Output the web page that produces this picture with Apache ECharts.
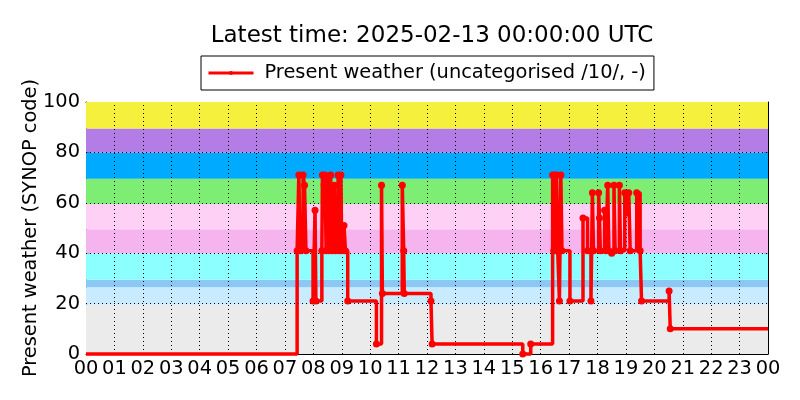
<!DOCTYPE html>
<html>
<head>
<meta charset="utf-8">
<script src="https://cdn.jsdelivr.net/npm/echarts@6/dist/echarts.min.js"></script>
<style>html,body{margin:0;padding:0;background:#fff}#c{width:800px;height:400px}</style>
</head>
<body>
<div id="c"></div>
<script>
// Time in hours since 2025-02-12 00:00 UTC
var times = [0.00, 7.43, 7.49, 7.54, 7.64, 7.69, 7.74, 7.99, 8.06, 8.09, 8.30, 8.32, 8.38, 8.41, 8.45, 8.50, 8.55, 8.61, 8.65, 8.74, 8.78, 8.87, 8.90, 8.97, 9.00, 9.08, 9.13, 9.21,
  10.22, 10.40, 10.43, 11.13, 11.18, 11.20, 12.14, 12.18, 15.37, 15.65,
  16.42, 16.46, 16.50, 16.53, 16.56, 16.60, 16.66, 16.68, 16.71, 16.75, 17.03, 17.49, 17.65, 17.77, 17.82, 17.86,
  18.04, 18.07, 18.10, 18.25, 18.29, 18.36, 18.40, 18.50, 18.58, 18.62, 18.77, 18.81, 18.96, 19.05, 19.10, 19.15, 19.38, 19.50, 19.55,
  20.52, 20.56, 24.00];
var values = [0, 41, 71, 41, 71, 67, 41, 21, 57, 21, 41, 71, 67, 71, 41, 69, 41, 71, 41, 67, 41, 71, 41, 71, 41, 51, 41, 21,
  4, 67, 24, 67, 41, 24, 21, 4, 0, 4,
  71, 41, 71, 41, 71, 41, 21, 41, 71, 41, 21, 54, 41, 21, 64, 41,
  64, 54, 41, 57, 41, 67, 41, 40, 67, 41, 67, 41, 64, 56, 64, 41, 64, 41, 21,
  25, 10, 10];
var hourTicks = ['00','01','02','03','04','05','06','07','08','09','10','11','12','13','14','15','16','17','18','19','20','21','22','23','00'];
var yTicks = [0, 20, 40, 60, 80, 100];
var bandEdges = [0, 19.5, 26.5, 29.5, 40, 49.5, 59.5, 69.5, 80, 89.5, 100];
var bandColors = ['#ebebeb', '#c8ebff', '#8cc8f5', '#8cffff', '#f5b4ee', '#ffd0f5', '#7ded73', '#00aaff', '#b47de6', '#f5f03c'];
var titleText = 'Latest time: 2025-02-13 00:00:00 UTC';
var seriesName = 'Present weather (uncategorised /10/, -)';
var yName = 'Present weather (SYNOP code)';

var pts = times.map(function (t, i) { return [t, values[i]]; });
var areas = [];
for (var i = 0; i < bandColors.length; i++) {
  areas.push([{ yAxis: bandEdges[i], itemStyle: { color: bandColors[i], opacity: 1 } }, { yAxis: bandEdges[i + 1] }]);
}
var gridLines = [];
for (var h = 1; h < hourTicks.length - 1; h++) gridLines.push({ xAxis: h });
for (var k = 1; k < yTicks.length - 1; k++) gridLines.push({ yAxis: yTicks[k] });

var FONT = 'DejaVu Sans';
var FS = 19.4;
var lastIdx = times.length - 1;
var chart = echarts.init(document.getElementById('c'), null, { renderer: 'canvas' });
chart.setOption({
  animation: false,
  backgroundColor: '#fff',
  title: {
    text: titleText, left: 427, top: 20, textAlign: 'center',
    textStyle: { fontFamily: FONT, fontSize: 23, fontWeight: 'normal', color: '#000' }
  },
  legend: {
    left: 201, top: 56,
    padding: [6, 8, 6, 6],
    backgroundColor: '#fff', borderColor: '#000', borderWidth: 1, borderRadius: 0,
    itemWidth: 45, itemHeight: 5,
    lineStyle: { width: 3 },
    textStyle: { fontFamily: FONT, fontSize: FS, color: '#000', padding: [0, 0, 0, 6], lineHeight: 22 },
    data: [seriesName]
  },
  grid: { left: 86, right: 32, top: 102, bottom: 46, show: false },
  xAxis: [{
    type: 'value', min: 0, max: 24, interval: 1,
    axisLine: { show: true, onZero: false, lineStyle: { color: '#000', width: 1 } },
    axisTick: { show: true, inside: true, length: 4, lineStyle: { color: '#000' } },
    axisLabel: { fontFamily: FONT, fontSize: FS, color: '#000', margin: 5, formatter: function (v) { return hourTicks[v]; } },
    splitLine: { show: false }
  }, {
    type: 'value', min: 0, max: 24, interval: 1, position: 'top',
    axisLine: { show: true, onZero: false, lineStyle: { color: '#000', width: 1 } },
    axisTick: { show: true, inside: true, length: 4, lineStyle: { color: '#000' } },
    axisLabel: { show: false }, splitLine: { show: false }
  }],
  yAxis: [{
    type: 'value', min: 0, max: 100, interval: 20,
    name: yName, nameLocation: 'middle', nameGap: 46, nameMoveOverlap: false,
    nameTextStyle: { fontFamily: FONT, fontSize: FS, color: '#000' },
    axisLine: { show: true, onZero: false, lineStyle: { color: '#000', width: 1 } },
    axisTick: { show: true, inside: true, length: 4, lineStyle: { color: '#000' } },
    axisLabel: { fontFamily: FONT, fontSize: FS, color: '#000', margin: 6 },
    splitLine: { show: false }
  }, {
    type: 'value', min: 0, max: 100, interval: 20, position: 'right',
    axisLine: { show: true, onZero: false, lineStyle: { color: '#000', width: 1 } },
    axisTick: { show: true, inside: true, length: 4, lineStyle: { color: '#000' } },
    axisLabel: { show: false }, splitLine: { show: false }
  }],
  series: [{
    type: 'line', name: 'bands', data: [], z: 1, silent: true,
    markArea: { silent: true, data: areas },
    markLine: {
      silent: true, symbol: 'none', label: { show: false },
      lineStyle: { color: '#000', type: [1, 3], width: 1, opacity: 1 },
      emphasis: { disabled: true },
      data: gridLines
    }
  }, {
    type: 'line', name: seriesName, data: pts, step: 'end', z: 5, clip: false,
    showAllSymbol: true, symbol: 'circle',
    symbolSize: function (v, p) { return (p.dataIndex === 0 || p.dataIndex === lastIdx) ? 0 : 7; },
    lineStyle: { color: '#ff0000', width: 3.5 },
    itemStyle: { color: '#ff0000', borderWidth: 0 }
  }]
});
</script>
</body>
</html>
